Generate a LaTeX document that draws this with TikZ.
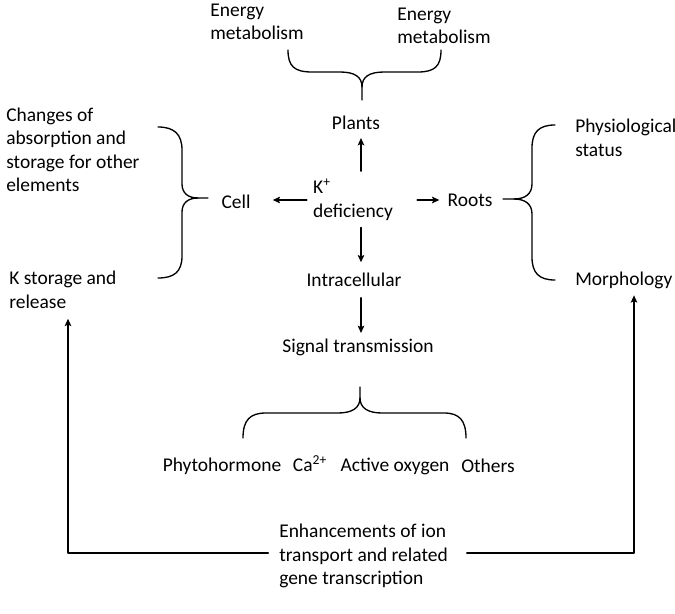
\documentclass[tikz,border=0pt]{standalone}
\usepackage{fontspec}
\setmainfont{Carlito}
\usetikzlibrary{arrows.meta}

\begin{document}
\begin{tikzpicture}
  [
    x=0.75pt, y=-0.75pt,
    line cap=round, line join=round,
    every node/.style={inner sep=0pt, align=left},
    arr/.style={black, line width=0.85pt, -{Stealth[length=5.5pt,width=5pt,inset=1.2pt]}},
    brace/.style={black, line width=1pt},
  ]
\fontsize{14.6}{17.6}\selectfont
\useasboundingbox (0,0) rectangle (675,614);

% centre column
\node (kdef)   at (353,200) {K\textsuperscript{+}\\deficiency};
\node (plants) at (356,123) {Plants};
\node (cell)   at (236,202) {Cell};
\node (roots)  at (470,200) {Roots};
\node (intra)  at (354,280) {Intracellular};
\node (signal) at (358,347) {Signal transmission};

% leaves of the braces
\node (emL) at (257,22) {Energy\\metabolism};
\node (emR) at (444,26) {Energy\\metabolism};
\node[anchor=west] (chg)    at (6,150)   {Changes of\\absorption and\\storage for other\\elements};
\node[anchor=west] (kstore) at (9,290)   {K storage and\\release};
\node[anchor=west] (physio) at (575,138) {Physiological\\status};
\node[anchor=west] (morph)  at (575,280) {Morphology};
\node[anchor=base] (phyto)  at (222,471) {Phytohormone};
\node[anchor=base] (ca)     at (310,471) {Ca\textsuperscript{2+}};
\node[anchor=base] (oxy)    at (395,471) {Active oxygen};
\node[anchor=base] (others) at (488,472) {Others};
\node[anchor=west] (enh)    at (279,556) {Enhancements of ion\\transport and related\\gene transcription};

% arrows out of K+ deficiency
\coordinate (axis) at (361,0);
\draw[arr, shorten <=6pt, shorten >=6pt] (kdef.north -| axis) -- (plants.south -| axis);
\draw[arr, shorten <=4.5pt, shorten >=16.5pt] (kdef.west) -- (kdef.west -| cell.east);
\draw[arr, shorten <=18pt, shorten >=6pt] (kdef.east) -- (kdef.east -| roots.west);
\draw[arr, shorten <=5pt, shorten >=8pt] (kdef.south -| axis) -- (intra.north -| axis);
\draw[arr, shorten <=8pt, shorten >=4pt] (intra.south -| axis) -- (signal.north -| axis);

% feedback loop
\coordinate (lft) at (68,553);
\coordinate (rgt) at (634,553);
\draw[arr, shorten <=8pt, shorten >=7.5pt] (enh.west |- lft) -- (lft) -- (lft |- kstore.south);
\draw[arr, shorten <=14pt, shorten >=5pt] (enh.east |- rgt) -- (rgt) -- (rgt |- morph.south);

% braces
\draw[brace] (288,50) .. controls (288,66) and (294,72) .. (312,72) -- (340,72)
  .. controls (355,72) and (362,77) .. (362,87) -- (362,100);
\draw[brace] (362,87) .. controls (362,77) and (369,72) .. (384,72) -- (418,72)
  .. controls (435,72) and (441,66) .. (441,50);

\draw[brace] (158,127) .. controls (174,127) and (182,134) .. (182,150) -- (182,184)
  .. controls (182,193) and (188,198) .. (198,198) -- (208,198);
\draw[brace] (198,198) .. controls (188,198) and (182,203) .. (182,212) -- (182,256)
  .. controls (182,272) and (174,278) .. (158,278);

\draw[brace] (555,125) .. controls (539,125) and (532,132) .. (532,148) -- (532,184)
  .. controls (532,194) and (525,199) .. (514,199) -- (503,199);
\draw[brace] (514,199) .. controls (525,199) and (532,204) .. (532,214) -- (532,257)
  .. controls (532,273) and (539,280) .. (555,280);

\draw[brace] (243,438) .. controls (243,420) and (250,413) .. (266,413) -- (338,413)
  .. controls (352,413) and (360,408) .. (360,398) -- (360,387);
\draw[brace] (360,398) .. controls (360,408) and (368,413) .. (382,413) -- (444,413)
  .. controls (459,413) and (466,420) .. (466,438);

\end{tikzpicture}
\end{document}
